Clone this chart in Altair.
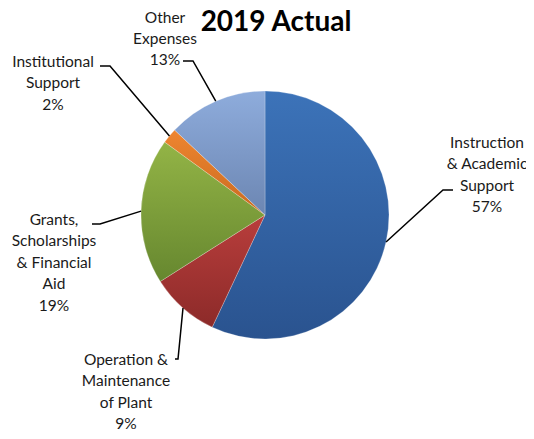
import math
import altair as alt
import pandas as pd

# ---- data ----
categories = [
    "Instruction & Academic Support",
    "Operation & Maintenance of Plant",
    "Grants, Scholarships & Financial Aid",
    "Institutional Support",
    "Other Expenses",
]
percents = [57, 9, 19, 2, 13]
label_wraps = [
    ["Instruction", "& Academic", "Support"],
    ["Operation &", "Maintenance", "of Plant"],
    ["Grants,", "Scholarships", "& Financial", "Aid"],
    ["Institutional", "Support"],
    ["Other", "Expenses"],
]
title_text = "2019 Actual"

# ---- style / layout ----
top_colors = ["#3c73b9", "#b93e3c", "#93b446", "#ee8530", "#8eacdc"]
bottom_colors = ["#2a538f", "#8c2a29", "#66872f", "#c96a20", "#6c86b2"]
W, H = 518, 423
CX, CY, R = 257, 207, 124
# (center x, first-line y) of each label block
label_xy = [(479, 135), (118, 352), (46, 212), (45, 54), (157, 9.5)]
leader_elbow = [(435, 182), (170, 351), (92, 216), (102, 58), (185, 53)]
leader_end = [(445, 182), (167, 351), (84, 216), (92, 58), (175, 53)]
FONT = "Lato"
LINE_H = 21.4

# ---- derived tables ----
total = sum(percents)
starts, ends = [], []
acc = 0
for p in percents:
    starts.append(acc)
    acc += p
    ends.append(acc)
slices = pd.DataFrame({"idx": range(len(categories)), "category": categories,
                       "start": starts, "end": ends})

line_rows = []
for i, (s, e) in enumerate(zip(starts, ends)):
    a = (s + e) / 2 / total * 2 * math.pi
    ex, ey = CX + R * math.sin(a), CY - R * math.cos(a)
    pts = [(ex, ey), leader_elbow[i], leader_end[i]]
    for k, (px, py) in enumerate(pts):
        line_rows.append({"id": i, "ord": k, "x": px, "y": py})
lines = pd.DataFrame(line_rows)

labels = pd.DataFrame({
    "text": ["\n".join(w + [f"{p}%"]) for w, p in zip(label_wraps, percents)],
    "x": [xy[0] for xy in label_xy],
    "y": [xy[1] for xy in label_xy],
})

xs = alt.Scale(domain=[0, W], range=[0, W])
ys = alt.Scale(domain=[0, H], range=[0, H])
theta_scale = alt.Scale(domain=[0, total], range=[0, 2 * math.pi])

arc_layers = []
for i in range(len(categories)):
    grad = alt.LinearGradient(
        gradient="linear",
        stops=[alt.GradientStop(color=top_colors[i], offset=0),
               alt.GradientStop(color=bottom_colors[i], offset=1)],
        x1=0, x2=0, y1=0, y2=1,
    )
    arc_layers.append(
        alt.Chart(slices).transform_filter(alt.datum.idx == i)
        .mark_arc(outerRadius=R, fill=grad, stroke="#ffffff", strokeWidth=0.4, strokeOpacity=0.6)
        .encode(
            theta=alt.Theta("start:Q", stack=None, scale=theta_scale),
            theta2="end:Q",
            x=alt.value(CX), y=alt.value(CY),
            tooltip=["category:N"],
        )
    )

leaders = alt.Chart(lines).mark_line(color="#000000", strokeWidth=1.5).encode(
    x=alt.X("x:Q", scale=xs, axis=None),
    y=alt.Y("y:Q", scale=ys, axis=None),
    detail="id:N",
    order="ord:Q",
)

texts = alt.Chart(labels).mark_text(
    font=FONT, fontSize=15.5, lineBreak="\n", lineHeight=LINE_H,
    align="center", baseline="middle", color="#1a1a1a",
).encode(
    x=alt.X("x:Q", scale=xs, axis=None),
    y=alt.Y("y:Q", scale=ys, axis=None),
    text="text:N",
)

title = alt.Chart(pd.DataFrame({"t": [title_text]})).mark_text(
    font=FONT, fontSize=28, fontWeight="bold", align="center", baseline="middle", color="#000000",
).encode(x=alt.value(268), y=alt.value(15), text="t:N")

chart = alt.layer(*arc_layers, leaders, texts, title).properties(
    width=W, height=H, padding=0, autosize="none"
).configure_view(stroke=None)

chart.save("out.html", embed_options={"renderer": "svg", "actions": False})
